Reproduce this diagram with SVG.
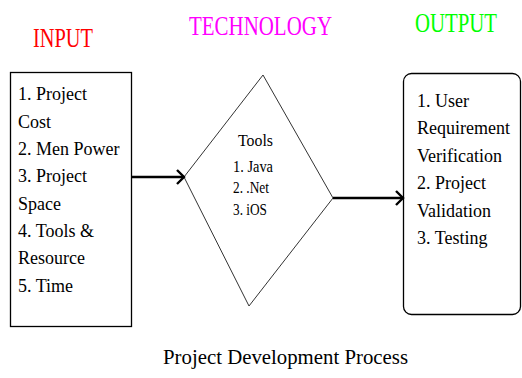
<svg xmlns="http://www.w3.org/2000/svg" width="522" height="378" viewBox="0 0 522 378">
<style>
text{font-family:'Liberation Serif','Times New Roman','DejaVu Serif',serif;fill:#000}
.body{font-size:18px}
.small{font-size:17.5px}
.title{font-size:27px}
.shape{fill:#fff;stroke:#000;stroke-width:1.3}
.conn{stroke:#000;stroke-width:2.6;fill:none}
</style>
<defs>
<marker id="arr" markerUnits="userSpaceOnUse" markerWidth="14" markerHeight="18" refX="10" refY="8" orient="auto">
<path d="M3,1 L10,8 L3,15" fill="none" stroke="#000" stroke-width="2.4"/>
</marker>
</defs>
<rect width="522" height="378" fill="#fff"/>
<g id="titles">
<text class="title" x="33" y="47" style="fill:#ff0000" textLength="60" lengthAdjust="spacingAndGlyphs">INPUT</text>
<text class="title" x="189" y="35" style="fill:#ff00ff" textLength="143" lengthAdjust="spacingAndGlyphs">TECHNOLOGY</text>
<text class="title" x="415" y="32" style="fill:#00ff00" textLength="82" lengthAdjust="spacingAndGlyphs">OUTPUT</text>
</g>
<g id="input">
<rect class="shape" x="10.5" y="72.5" width="121" height="254"/>
<text class="body" x="18" y="100">1. Project</text>
<text class="body" x="18" y="127.5">Cost</text>
<text class="body" x="18" y="155">2. Men Power</text>
<text class="body" x="18" y="182">3. Project</text>
<text class="body" x="18" y="209.5">Space</text>
<text class="body" x="18" y="237">4. Tools &amp;</text>
<text class="body" x="18" y="264">Resource</text>
<text class="body" x="18" y="291.5">5. Time</text>
</g>
<g id="technology">
<polygon class="shape" points="263,75 333,198 249,306 184,177" style="stroke:#333;stroke-width:1"/>
<text class="small" x="238" y="146" textLength="35" lengthAdjust="spacingAndGlyphs">Tools</text>
<text class="small" x="233" y="172" textLength="40" lengthAdjust="spacingAndGlyphs">1. Java</text>
<text class="small" x="233" y="193" textLength="36" lengthAdjust="spacingAndGlyphs">2. .Net</text>
<text class="small" x="233" y="215" textLength="34" lengthAdjust="spacingAndGlyphs">3. iOS</text>
</g>
<g id="output">
<rect class="shape" x="403.5" y="73.5" width="117" height="241" rx="8"/>
<text class="body" x="417" y="107">1.  User</text>
<text class="body" x="417" y="134">Requirement</text>
<text class="body" x="417" y="162">Verification</text>
<text class="body" x="417" y="189">2. Project</text>
<text class="body" x="417" y="217">Validation</text>
<text class="body" x="417" y="244">3. Testing</text>
</g>
<g id="connectors">
<line class="conn" x1="132" y1="177" x2="184" y2="177" marker-end="url(#arr)"/>
<line class="conn" x1="333" y1="198" x2="403" y2="198" marker-end="url(#arr)"/>
</g>
<g id="caption">
<text x="163" y="364" style="font-size:20px" textLength="245" lengthAdjust="spacingAndGlyphs">Project Development Process</text>
</g>
</svg>
